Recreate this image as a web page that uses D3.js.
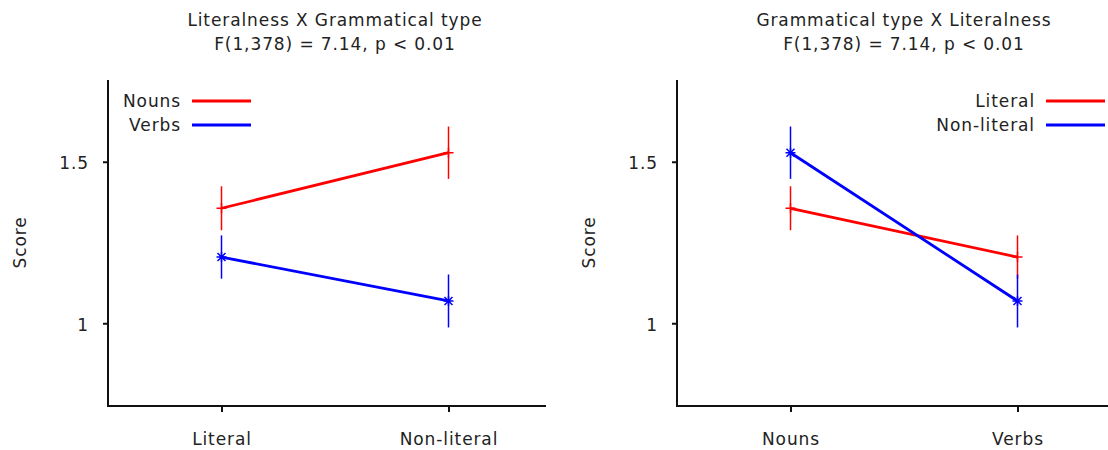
<!DOCTYPE html>
<html>
<head>
<meta charset="utf-8">
<script src="https://cdn.jsdelivr.net/npm/d3@7"></script>
<style>
  body { margin: 0; background: #fff; }
  svg { display: block; font-family: "DejaVu Sans", Verdana, sans-serif; }
</style>
</head>
<body>
<div id="chart"></div>
<script>
// cell means (score) and error half-widths
const literalness = ["Literal", "Non-literal"];
const gramType = ["Nouns", "Verbs"];
const nounsMean = [1.356, 1.528];
const nounsErr = [0.068, 0.081];
const verbsMean = [1.205, 1.069];
const verbsErr = [0.067, 0.082];
const yTicks = [1, 1.5];
const titles = [
    ["Literalness X Grammatical type", "F(1,378) = 7.14, p < 0.01"],
    ["Grammatical type X Literalness", "F(1,378) = 7.14, p < 0.01"]
];

const width = 1108, height = 450;
const panelW = 569;
const margin = {left: 108, top: 81, bottom: 404};
const fontSize = '17px';
const spacing = '0.9px';

const svg = d3.select('#chart')
    .append('svg')
    .attr('width', width)
    .attr('height', height);

svg.append('defs').append('clipPath')
    .attr('id', 'panelClip')
    .append('rect')
    .attr('width', 546)
    .attr('height', height);

function label(sel) {
    return sel.attr('font-size', fontSize)
        .attr('letter-spacing', spacing)
        .attr('fill', '#222');
}

function drawPanel(idx, cats, series, legendRight) {
    const g = svg.append('g')
        .attr('transform', `translate(${idx * panelW},0)`)
        .attr('clip-path', 'url(#panelClip)');

    const x = d3.scaleLinear().domain([0.5, 2.5]).range([margin.left, margin.left + 454]);
    const y = d3.scaleLinear().domain([0.75, 1.75]).range([margin.bottom, margin.top]);

    // titles
    const cx = (x.range()[0] + x.range()[1]) / 2;
    g.selectAll('text.title')
        .data(titles[idx])
        .join('text')
        .attr('class', 'title')
        .attr('x', cx)
        .attr('y', (d, i) => 26 + i * 24)
        .attr('text-anchor', 'middle')
        .call(label)
        .text(d => d);

    // axes
    const yAxis = d3.axisLeft(y).tickValues(yTicks).tickSize(5).tickPadding(14)
        .tickFormat(d3.format('~g'));
    const ya = g.append('g').attr('transform', `translate(${margin.left},0)`).call(yAxis);
    const xAxis = d3.axisBottom(x).tickValues([1, 2]).tickSize(6).tickPadding(21)
        .tickFormat(d => cats[d - 1]);
    const xa = g.append('g').attr('transform', `translate(0,${margin.bottom + 2})`).call(xAxis);

    [ya, xa].forEach(a => {
        a.select('.domain').remove();
        a.selectAll('.tick line').attr('stroke', '#111').attr('stroke-width', 2);
        a.selectAll('.tick text').call(label)
            .attr('font-family', '"DejaVu Sans", Verdana, sans-serif');
    });
    ya.selectAll('.tick text').attr('dy', '0.42em');

    g.append('path')
        .attr('d', `M${margin.left},${margin.top - 1}V${margin.bottom + 2}H${x.range()[1]}`)
        .attr('fill', 'none')
        .attr('stroke', '#111')
        .attr('stroke-width', 2);

    g.append('text')
        .attr('transform', `translate(26,${(margin.top + margin.bottom) / 2}) rotate(-90)`)
        .attr('text-anchor', 'middle')
        .call(label)
        .text('Score');

    // series
    series.forEach((s, si) => {
        const pts = s.mean.map((m, i) => ({x: i + 1, m, e: s.err[i]}));

        g.append('path')
            .datum(pts)
            .attr('fill', 'none')
            .attr('stroke', s.color)
            .attr('stroke-width', 2.8)
            .attr('d', d3.line().x(d => x(d.x)).y(d => y(d.m)));

        g.selectAll(null)
            .data(pts)
            .join('line')
            .attr('x1', d => x(d.x)).attr('x2', d => x(d.x))
            .attr('y1', d => y(d.m - d.e)).attr('y2', d => y(d.m + d.e))
            .attr('stroke', s.color)
            .attr('stroke-width', 1.5);

        const r = 5;
        const marker = s.marker === 'star'
            ? `M${-r},0H${r}M0,${-r}V${r}M${-r * 0.8},${-r * 0.8}L${r * 0.8},${r * 0.8}M${-r * 0.8},${r * 0.8}L${r * 0.8},${-r * 0.8}`
            : `M${-r},0H${r}M0,${-r}V${r}`;
        g.selectAll(null)
            .data(pts)
            .join('path')
            .attr('transform', d => `translate(${x(d.x)},${y(d.m)})`)
            .attr('d', marker)
            .attr('fill', 'none')
            .attr('stroke', s.color)
            .attr('stroke-width', 1.5);

        // legend
        const ly = 101 + si * 24;
        const lineX0 = legendRight ? 477 : 192;
        g.append('line')
            .attr('x1', lineX0).attr('x2', lineX0 + 59)
            .attr('y1', ly).attr('y2', ly)
            .attr('stroke', s.color)
            .attr('stroke-width', 3);
        g.append('text')
            .attr('x', lineX0 - 11)
            .attr('y', ly + 6)
            .attr('text-anchor', 'end')
            .call(label)
            .text(s.name);
    });
}

// left: x = literalness, lines = grammatical type
drawPanel(0, literalness, [
    {name: gramType[0], mean: nounsMean, err: nounsErr, color: '#ff0000', marker: 'plus'},
    {name: gramType[1], mean: verbsMean, err: verbsErr, color: '#0000ff', marker: 'star'}
], false);

// right: x = grammatical type, lines = literalness
drawPanel(1, gramType, [
    {name: literalness[0], mean: [nounsMean[0], verbsMean[0]], err: [nounsErr[0], verbsErr[0]], color: '#ff0000', marker: 'plus'},
    {name: literalness[1], mean: [nounsMean[1], verbsMean[1]], err: [nounsErr[1], verbsErr[1]], color: '#0000ff', marker: 'star'}
], true);
</script>
</body>
</html>
